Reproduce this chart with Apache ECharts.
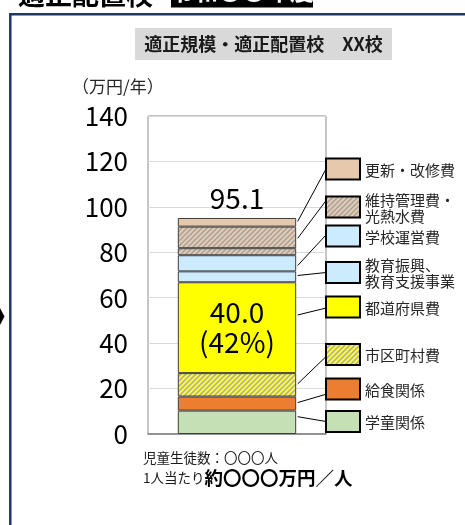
<!DOCTYPE html>
<html><head><meta charset="utf-8">
<script src="https://cdn.jsdelivr.net/npm/echarts@6/dist/echarts.min.js"></script>
<style>html,body{margin:0;padding:0;background:#fff;overflow:hidden}#c{width:465px;height:525px}</style>
</head><body><div id="c"></div>
<script>
// ---- data ----
const categories = ['XX校'];
const seriesNames = ['学童関係','給食関係','市区町村費','都道府県費','教育振興、教育支援事業','学校運営費','維持管理費','光熱水費','更新・改修費'];
const seriesValues = [10.3, 6.2, 10.3, 40.0, 4.8, 7.1, 3.1, 9.5, 3.8];
const yMin = 0, yMax = 140, yInterval = 20;
const legendLabels = ['更新・改修費','維持管理費・\n光熱水費','学校運営費','教育振興、\n教育支援事業','都道府県費','市区町村費','給食関係','学童関係'];
const legendSeries = [8, 7, 5, 4, 3, 2, 1, 0];
const highlightSeries = 3;
const titleText = '適正規模・適正配置校　XX校';
const unitText = '（万円/年）';
const headerText = '適正配置校';
const headerBoxText = '令和〇〇年度';
const studentText = '児童生徒数：〇〇〇人';
const perPersonPrefix = '1人当たり';
const perPersonValue = '約〇〇〇万円／人';

// ---- styles ----
const FONT = '"Noto Sans CJK JP", "Noto Sans", sans-serif';
function hatch(base, stripe){
  const s = 5;
  const c = document.createElement('canvas'); c.width = s; c.height = s;
  const g = c.getContext('2d');
  g.fillStyle = base; g.fillRect(0,0,s,s);
  g.strokeStyle = stripe; g.lineWidth = 1.5;
  g.beginPath();
  g.moveTo(-1, s+1); g.lineTo(s+1, -1);
  g.moveTo(-1, 1); g.lineTo(1, -1);
  g.moveTo(s-1, s+1); g.lineTo(s+1, s-1);
  g.stroke();
  return {image: c, repeat: 'repeat'};
}
const seriesFill = [
  '#c5e0b4', '#ed7d31', hatch('#ffff33', '#a9a9a9'), '#ffff00', '#cdebff',
  '#cdebff', hatch('#e3cbb4', '#a6a09a'), hatch('#e3cbb4', '#a6a09a'), '#e6c9ad'
];
// leader start position within segment (fraction from bottom)
const anchorFrac = [0.74, 0.57, 0.54, 0.64, 0.62, 0.36, 0.5, 0.46, 0.6];
const boxTop = [158.5, 196.5, 225.5, 262, 296.5, 344, 378.5, 411];
const boxEndFrac = [0.5, 0.2, 0.45, 0.5, 0.55, 0.6, 0.75, 0.5];
const GRID = {left: 148, top: 116, width: 178, height: 318};

const total = seriesValues.reduce((a, b) => a + b, 0);

const chart = echarts.init(document.getElementById('c'), null, {renderer: 'canvas'});
const series = seriesNames.map((name, i) => {
  const s = {
    name, type: 'bar', stack: 'total', barWidth: '66.5%',
    data: [seriesValues[i]],
    itemStyle: {color: seriesFill[i], borderColor: '#3f3f3f', borderWidth: 1},
    emphasis: {disabled: true},
    label: {show: false}
  };
  if (i === highlightSeries) {
    s.label = {
      show: true, position: 'inside', color: '#000', fontFamily: FONT,
      fontSize: 28, lineHeight: 30,
      formatter: p => p.value.toFixed(1) + '\n(' + Math.round(p.value / total * 100) + '%)'
    };
  }
  if (i === seriesNames.length - 1) {
    s.label = {
      show: true, position: 'top', distance: 6, color: '#000', fontFamily: FONT,
      fontSize: 28, formatter: () => total.toFixed(1)
    };
  }
  return s;
});

chart.setOption({
  animation: false,
  backgroundColor: '#fff',
  grid: Object.assign({show: true, borderColor: '#8c8c8c', borderWidth: 1, backgroundColor: 'transparent'}, GRID),
  xAxis: {
    type: 'category', data: categories,
    axisLine: {show: true, lineStyle: {color: '#7f7f7f', width: 1.5}},
    axisTick: {show: false}, axisLabel: {show: false}
  },
  yAxis: {
    type: 'value', min: yMin, max: yMax, interval: yInterval,
    axisLine: {show: false}, axisTick: {show: false},
    axisLabel: {fontSize: 26, color: '#000', fontFamily: FONT, margin: 20},
    splitLine: {lineStyle: {color: '#d9d9d9', width: 1}}
  },
  series
});

// ---- annotations built from axis scales ----
const g = [];
// frame
g.push({type: 'rect', shape: {x: 10.3, y: 14.3, width: 480, height: 540}, style: {fill: 'none', stroke: '#1f3864', lineWidth: 2.5}, z: 1});
// header (cut off at the top)
g.push({type: 'text', style: {x: 18, y: 8, text: headerText, font: 'bold 27px ' + FONT, fill: '#000', verticalAlign: 'bottom'}, z: 5});
g.push({type: 'rect', shape: {x: 171, y: -22, width: 142, height: 29.5}, style: {fill: '#000'}, z: 5});
g.push({type: 'text', style: {x: 242, y: 3, text: headerBoxText, font: 'bold 24px ' + FONT, fill: '#fff', align: 'center', verticalAlign: 'bottom'}, z: 6});
// left arrow
g.push({type: 'polygon', shape: {points: [[0, 308], [4.5, 316.5], [0, 325]]}, style: {fill: '#000'}, z: 5});
// title box
g.push({type: 'rect', shape: {x: 135, y: 28, width: 257, height: 32}, style: {fill: '#d9d9d9'}, z: 5});
g.push({type: 'text', style: {x: 263.5, y: 44.5, text: titleText, font: 'bold 18px ' + FONT, fill: '#1a1a1a', align: 'center', verticalAlign: 'middle'}, z: 6});
// unit
g.push({type: 'text', style: {x: 72, y: 86.5, text: unitText, font: '17px ' + FONT, fill: '#262626', verticalAlign: 'middle'}, z: 6});
// footer
g.push({type: 'text', style: {x: 143, y: 458, text: studentText, font: '13.5px ' + FONT, fill: '#1a1a1a', verticalAlign: 'middle'}, z: 6});
g.push({type: 'text', style: {x: 143, y: 478, text: '{a|' + perPersonPrefix + '}{b|' + perPersonValue + '}',
  verticalAlign: 'middle', rich: {a: {fontSize: 13.5, fontFamily: FONT, fill: '#1a1a1a', color: '#1a1a1a'}, b: {fontSize: 18.5, fontWeight: 'bold', fontFamily: FONT, color: '#000'}}}, z: 6});

// leader lines and legend
const cx = chart.convertToPixel({xAxisIndex: 0}, categories[0]);
const barRight = cx + GRID.width * 0.665 / 2 + 1.5;
const cum = [];
let acc = 0;
seriesValues.forEach(v => { cum.push(acc); acc += v; });
legendLabels.forEach((lab, k) => {
  const si = legendSeries[k];
  const vy = cum[si] + seriesValues[si] * anchorFrac[si];
  const py = chart.convertToPixel({yAxisIndex: 0}, vy);
  const bx = GRID.left + GRID.width;
  const by = boxTop[k];
  g.push({type: 'line', shape: {x1: barRight, y1: py, x2: bx, y2: by + 21 * boxEndFrac[k]}, style: {stroke: '#000', lineWidth: 1}, z: 7});
  g.push({type: 'rect', shape: {x: bx, y: by, width: 34, height: 21}, style: {fill: seriesFill[si], stroke: '#000', lineWidth: 2}, z: 8});
  g.push({type: 'text', style: {x: bx + 39, y: by + 11.5, text: lab, font: '15px ' + FONT, fill: '#262626', verticalAlign: 'middle', lineHeight: 16}, z: 8});
});
chart.setOption({graphic: {elements: g}});
</script></body></html>
